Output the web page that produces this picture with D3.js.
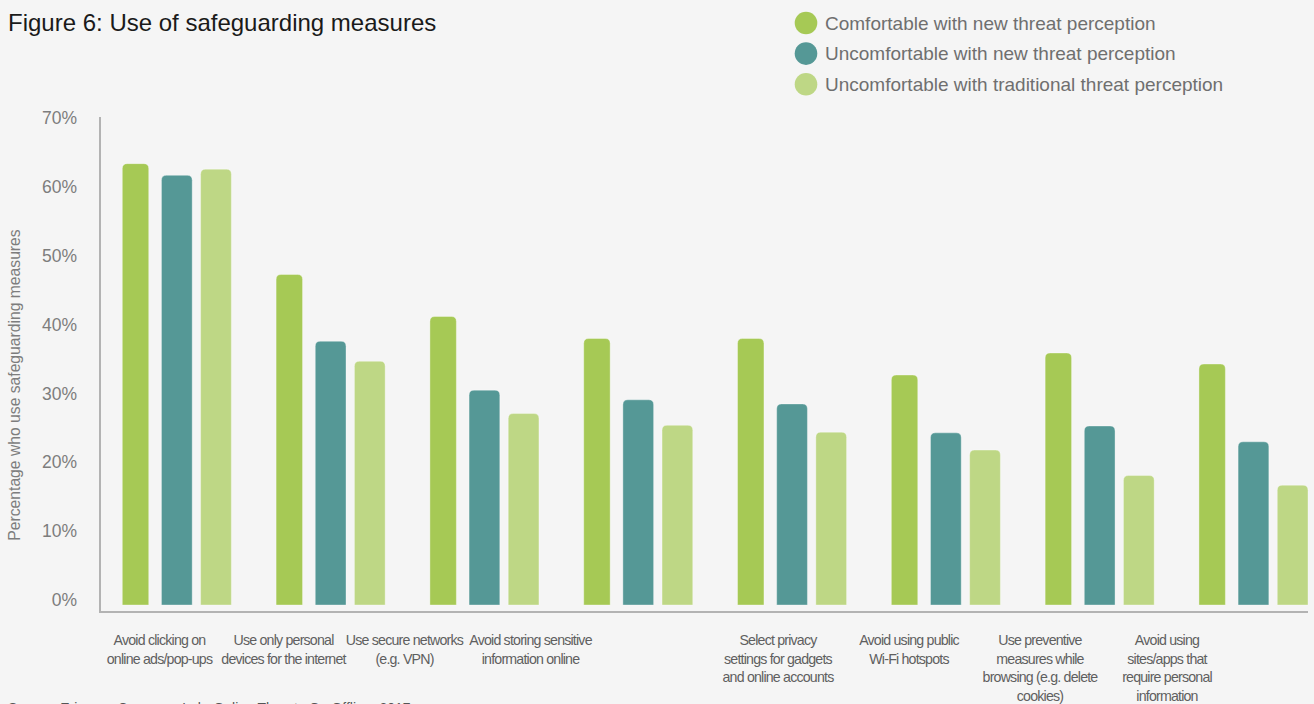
<!DOCTYPE html>
<html>
<head>
<meta charset="utf-8">
<script src="https://cdn.jsdelivr.net/npm/d3@7"></script>
<style>
  html, body { margin: 0; padding: 0; background: #f5f5f5; }
  svg { display: block; font-family: "Liberation Sans", Arial, Helvetica, sans-serif; }
</style>
</head>
<body>
<svg id="chart" width="1314" height="704"></svg>
<script>
// ---- data ----
const categories = [
  "Avoid clicking on online ads/pop-ups",
  "Use only personal devices for the internet",
  "Use secure networks (e.g. VPN)",
  "Avoid storing sensitive information online",
  "Select privacy settings for gadgets and online accounts",
  "Avoid using public Wi-Fi hotspots",
  "Use preventive measures while browsing (e.g. delete cookies)",
  "Avoid using sites/apps that require personal information"
];
const categoryLines = [
  ["Avoid clicking on", "online ads/pop-ups"],
  ["Use only personal", "devices for the internet"],
  ["Use secure networks", "(e.g. VPN)"],
  ["Avoid storing sensitive", "information online"],
  ["Select privacy", "settings for gadgets", "and online accounts"],
  ["Avoid using public", "Wi-Fi hotspots"],
  ["Use preventive", "measures while", "browsing (e.g. delete", "cookies)"],
  ["Avoid using", "sites/apps that", "require personal", "information"]
];
const seriesNames = [
  "Comfortable with new threat perception",
  "Uncomfortable with new threat perception",
  "Uncomfortable with traditional threat perception"
];
const comfortableNew   = [64.1, 48.0, 41.9, 38.7, 38.7, 33.4, 36.6, 35.0];
const uncomfortableNew = [62.4, 38.3, 31.2, 29.8, 29.2, 25.0, 26.0, 23.7];
const uncomfortableTrad= [63.3, 35.4, 27.8, 26.1, 25.1, 22.5, 18.8, 17.4];
const yTicks = [0, 10, 20, 30, 40, 50, 60, 70];

const title = "Figure 6: Use of safeguarding measures";
const yTitle = "Percentage who use safeguarding measures";
const source = "Source: Ericsson ConsumerLab, Online Threats Go Offline, 2017";

// ---- styling / layout ----
const colors = ["#a6c955", "#559896", "#bed785"];
const widthFactor = [0.86, 1, 1];          // first series drawn slightly slimmer
const labelCenters = [159.5, 283.5, 404.5, 530.5, 778, 909, 1040, 1167];

const svg = d3.select("#chart");
svg.append("rect").attr("width", 1314).attr("height", 704).attr("fill", "#f5f5f5");

const plot = { left: 100, right: 1308, top: 117, bottom: 612 };

const y = d3.scaleLinear().domain([0, 70]).range([605, 123]);

const x0 = d3.scaleBand()
  .domain(categories)
  .range([122.3, 1308])
  .paddingInner(0.291)
  .paddingOuter(0);

const x1 = d3.scaleBand()
  .domain(seriesNames)
  .range([0, x0.bandwidth()])
  .paddingInner(0.215)
  .paddingOuter(0);

const seriesValues = [comfortableNew, uncomfortableNew, uncomfortableTrad];

// rounded-top bar path
function topRounded(x, yTop, w, h, r) {
  r = Math.min(r, w / 2, h);
  return `M${x},${yTop + h}` +
         `V${yTop + r}` +
         `Q${x},${yTop} ${x + r},${yTop}` +
         `H${x + w - r}` +
         `Q${x + w},${yTop} ${x + w},${yTop + r}` +
         `V${yTop + h}Z`;
}

// ---- bars ----
const groups = svg.append("g").selectAll("g")
  .data(categories)
  .join("g")
  .attr("transform", d => `translate(${x0(d)},0)`);

groups.selectAll("path")
  .data((d, i) => seriesNames.map((s, j) => ({ series: s, j, value: seriesValues[j][i] })))
  .join("path")
  .attr("d", d => {
    const w = x1.bandwidth() * widthFactor[d.j];
    const xs = x1(d.series);
    return topRounded(xs, y(d.value), w, y(0) - y(d.value), 5);
  })
  .attr("fill", d => colors[d.j])
  .attr("stroke", "rgba(255,255,255,0.35)")
  .attr("stroke-width", 1);

// ---- y axis ----
const yAxis = d3.axisLeft(y)
  .tickValues(yTicks)
  .tickSize(0)
  .tickPadding(0)
  .tickFormat(d => d + "%");

const yAxisG = svg.append("g")
  .attr("transform", "translate(77,-5)")
  .call(yAxis);
yAxisG.select(".domain").remove();
yAxisG.selectAll("text")
  .attr("fill", "#7d7d7d")
  .attr("font-size", 17.5)
  .attr("font-family", "Liberation Sans, Arial, sans-serif");

// axis lines
svg.append("path")
  .attr("d", `M${plot.left},${plot.top}V${plot.bottom}H${plot.right}`)
  .attr("fill", "none")
  .attr("stroke", "#b3b3b3")
  .attr("stroke-width", 2);

// y title
svg.append("text")
  .attr("transform", `translate(20,385) rotate(-90)`)
  .attr("text-anchor", "middle")
  .attr("fill", "#7d7d7d")
  .attr("font-size", 15.7)
  .text(yTitle);

// ---- category labels ----
const labelX = d3.scaleOrdinal(categories, labelCenters);
const catText = svg.append("g").selectAll("text")
  .data(categories)
  .join("text")
  .attr("x", d => labelX(d))
  .attr("y", 645)
  .attr("text-anchor", "middle")
  .attr("fill", "#5f5f5f")
  .attr("font-size", 14.2)
  .attr("letter-spacing", -0.8);

catText.selectAll("tspan")
  .data((d, i) => categoryLines[i].map(line => ({ line, x: labelX(d) })))
  .join("tspan")
  .attr("x", d => d.x)
  .attr("dy", (d, i) => i === 0 ? 0 : 18.7)
  .text(d => d.line);

// ---- title ----
svg.append("text")
  .attr("x", 8)
  .attr("y", 31)
  .attr("fill", "#1a1a1a")
  .attr("font-size", 24)
  .text(title);

// ---- legend ----
const legend = svg.append("g").selectAll("g")
  .data(seriesNames)
  .join("g")
  .attr("transform", (d, i) => `translate(806,${23 + i * 30.6})`);
legend.append("circle")
  .attr("r", 11.3)
  .attr("fill", (d, i) => colors[i]);
legend.append("text")
  .attr("x", 19)
  .attr("y", 6.5)
  .attr("fill", "#6f6f6f")
  .attr("font-size", 19)
  .text(d => d);

// ---- source ----
svg.append("text")
  .attr("x", 8)
  .attr("y", 713)
  .attr("fill", "#555")
  .attr("font-size", 14)
  .text(source);
</script>
</body>
</html>
